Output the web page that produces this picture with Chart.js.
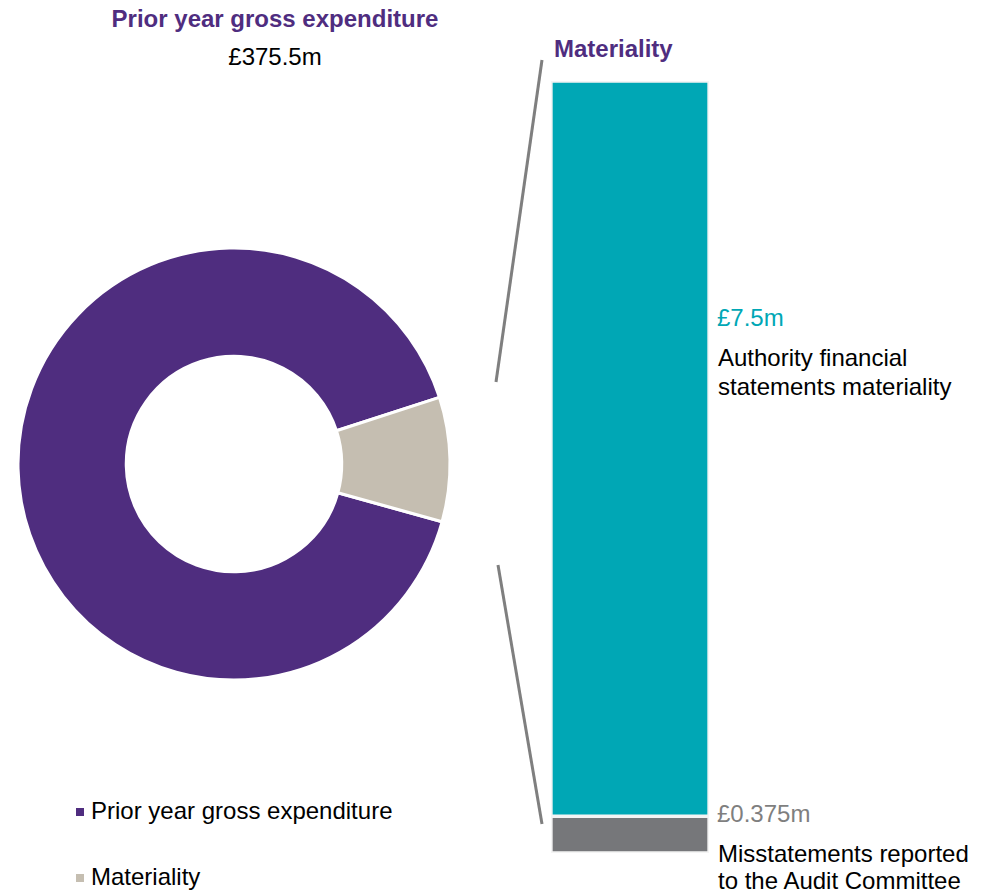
<!DOCTYPE html>
<html>
<head>
<meta charset="utf-8">
<script src="https://cdn.jsdelivr.net/npm/chart.js@4/dist/chart.umd.min.js"></script>
<style>
  body { margin: 0; background: #fff; width: 988px; height: 892px; position: relative; overflow: hidden;
         font-family: 'Liberation Sans', Arial, sans-serif; font-size: 24px; line-height: 24px; color: #000; }
  .abs { position: absolute; white-space: nowrap; }
  .bold { font-weight: bold; color: #4f2d7f; }
  #pie { position: absolute; left: 14px; top: 244px; }
  #bar { position: absolute; left: 551px; top: 81px; }
  #lines { position: absolute; left: 0; top: 0; pointer-events: none; }
  .key { position: absolute; left: 76px; width: 8px; height: 8px; }
</style>
</head>
<body>
<div class="abs bold" style="left:75px;top:7px;width:400px;text-align:center;">Prior year gross expenditure</div>
<div class="abs" style="left:75px;top:45px;width:400px;text-align:center;">£375.5m</div>
<div class="abs bold" style="left:554px;top:37px;">Materiality</div>
<div class="abs" style="left:717px;top:306px;color:#00a7b5;">£7.5m</div>
<div class="abs" style="left:718px;top:343px;line-height:29px;">Authority financial<br>statements materiality</div>
<div class="abs" style="left:717px;top:802px;color:#7f7f7f;">£0.375m</div>
<div class="abs" style="left:718px;top:840px;line-height:27px;">Misstatements reported<br>to the Audit Committee</div>
<div id="legend"></div>

<canvas id="pie" width="440" height="440" style="width:440px;height:440px;"></canvas>
<canvas id="bar" width="158" height="772" style="width:158px;height:772px;"></canvas>
<canvas id="lines" width="988" height="892"></canvas>

<script>
// doughnut: shares of the ring as drawn
const pieLabels = ['Prior year gross expenditure', 'Materiality']
const pieValues = [90.7, 9.3]
const pieColors = ['#4f2d7f', '#c5beb1']

// stacked materiality bar (£m)
const barCategory = ['Materiality']
const barLabels = ['Authority financial statements materiality', 'Misstatements reported to the Audit Committee']
const barValues = [7.5, 0.375]
const barColors = ['#00a7b5', '#76777a']

new Chart(document.getElementById('pie'), {
  type: 'doughnut',
  data: {
    labels: pieLabels,
    datasets: [{
      data: pieValues,
      backgroundColor: pieColors,
      borderColor: '#ffffff',
      borderWidth: 3,
      hoverOffset: 0
    }]
  },
  options: {
    responsive: false,
    animation: false,
    radius: 216,
    cutout: 109,
    rotation: 105.5,
    plugins: { legend: { display: false }, tooltip: { enabled: false } }
  }
})

const barTotal = barValues.reduce((a, b) => a + b, 0)
new Chart(document.getElementById('bar'), {
  type: 'bar',
  data: {
    labels: barCategory,
    datasets: barValues.map((v, i) => ({
      label: barLabels[i],
      data: [v],
      backgroundColor: barColors[i],
      borderColor: '#f4f4f4',
      borderWidth: 2,
      borderSkipped: false,
      barPercentage: 1,
      categoryPercentage: 1
    })).reverse()
  },
  options: {
    responsive: false,
    animation: false,
    layout: { padding: 0 },
    scales: {
      x: { stacked: true, display: false },
      y: { stacked: true, display: false, min: 0, max: barTotal }
    },
    plugins: { legend: { display: false }, tooltip: { enabled: false } }
  }
})

// legend for the doughnut
const legend = document.getElementById('legend')
const legendTops = [799, 865]
pieLabels.forEach((label, i) => {
  const key = document.createElement('div')
  key.className = 'key'
  key.style.top = (legendTops[i] + 9) + 'px'
  key.style.background = pieColors[i]
  legend.appendChild(key)
  const txt = document.createElement('div')
  txt.className = 'abs'
  txt.style.left = '91px'
  txt.style.top = legendTops[i] + 'px'
  txt.textContent = label
  legend.appendChild(txt)
})

// connector lines from the ring to the bar
const ctx = document.getElementById('lines').getContext('2d')
ctx.strokeStyle = '#7f7f7f'
ctx.lineWidth = 3
;[[496, 382, 542, 60], [498, 565, 542, 824]].forEach(([x1, y1, x2, y2]) => {
  ctx.beginPath()
  ctx.moveTo(x1, y1)
  ctx.lineTo(x2, y2)
  ctx.stroke()
})
</script>
</body>
</html>
